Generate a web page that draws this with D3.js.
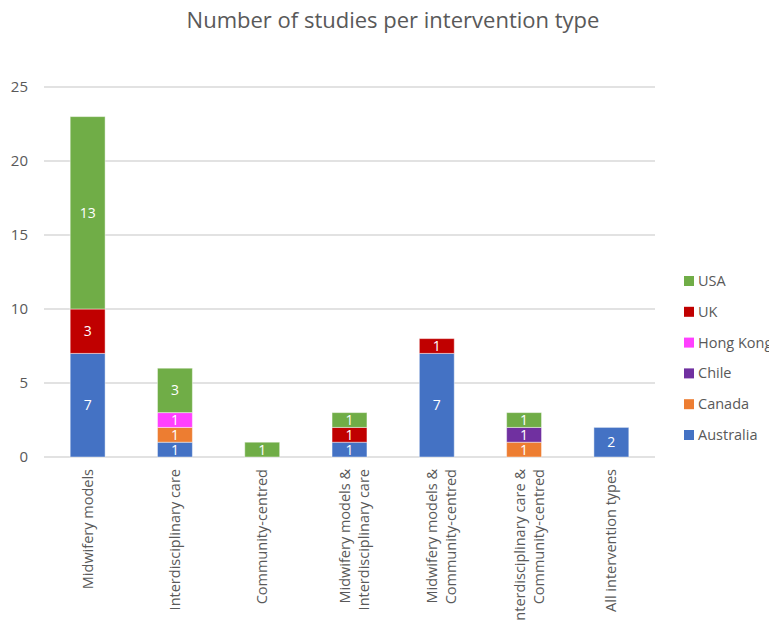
<!DOCTYPE html>
<html>
<head>
<meta charset="utf-8">
<script src="https://cdn.jsdelivr.net/npm/d3@7"></script>
<style>
  body { margin: 0; background: #fff; }
  svg text { font-family: "Open Sans", "Noto Sans", sans-serif; fill: #595959; }
</style>
</head>
<body>
<script>
// chart data
var categories = [
  ["Midwifery models"],
  ["Interdisciplinary care"],
  ["Community-centred"],
  ["Midwifery models &", "Interdisciplinary care"],
  ["Midwifery models &", "Community-centred"],
  ["Interdisciplinary care &", "Community-centred"],
  ["All intervention types"]
];
var countries = ["Australia", "Canada", "Chile", "Hong Kong", "UK", "USA"];
var australia = [7, 1, 0, 1, 7, 0, 2];
var canada    = [0, 1, 0, 0, 0, 1, 0];
var chile     = [0, 0, 0, 0, 0, 1, 0];
var hongKong  = [0, 1, 0, 0, 0, 0, 0];
var uk        = [3, 0, 0, 1, 1, 0, 0];
var usa       = [13, 3, 1, 1, 0, 1, 0];
var yTicks = [0, 5, 10, 15, 20, 25];
var colors = ["#4472C4", "#ED7D31", "#7030A0", "#FF40FF", "#C00000", "#70AD47"];

var width = 769, height = 620;
var margin = { top: 87, right: 114, bottom: 163, left: 44 };
var innerW = width - margin.left - margin.right;
var innerH = height - margin.top - margin.bottom;

var seriesValues = [australia, canada, chile, hongKong, uk, usa];
var rows = categories.map(function (c, i) {
  var r = { key: i };
  countries.forEach(function (k, j) { r[k] = seriesValues[j][i]; });
  return r;
});

var svg = d3.select('body').append('svg')
  .attr('width', width).attr('height', height);

svg.append('text')
  .attr('x', 393).attr('y', 28)
  .attr('text-anchor', 'middle')
  .style('font-size', '22px')
  .text('Number of studies per intervention type');

var g = svg.append('g').attr('transform', 'translate(' + margin.left + ',' + margin.top + ')');

var x = d3.scaleBand().domain(d3.range(categories.length)).range([0, innerW]).paddingInner(0.6).paddingOuter(0.3);
var y = d3.scaleLinear().domain([0, 25]).range([innerH, 0]);

// gridlines
g.append('g').selectAll('line').data(yTicks).enter().append('line')
  .attr('x1', 0).attr('x2', innerW)
  .attr('y1', function (d) { return y(d); }).attr('y2', function (d) { return y(d); })
  .style('stroke', '#d9d9d9').style('stroke-width', 1.3);

// y axis labels
var yAxis = g.append('g').call(d3.axisLeft(y).tickValues(yTicks).tickSize(0).tickPadding(16));
yAxis.select('.domain').remove();
yAxis.selectAll('text').style('font-size', '15px').style('fill', '#595959')
  .style('font-family', '"Open Sans", sans-serif');

var stack = d3.stack().keys(countries);
var series = stack(rows);

var layer = g.selectAll('.layer').data(series).enter().append('g')
  .attr('fill', function (d, i) { return colors[i]; });

layer.selectAll('rect').data(function (d) { return d.filter(function (p) { return p[1] - p[0] > 0; }); })
  .enter().append('rect')
  .attr('x', function (d) { return x(d.data.key); })
  .attr('width', x.bandwidth())
  .attr('y', function (d) { return y(d[1]); })
  .attr('height', function (d) { return y(d[0]) - y(d[1]); })
  .style('stroke', 'rgba(255,255,255,0.45)').style('stroke-width', 1);

layer.selectAll('text').data(function (d) { return d.filter(function (p) { return p[1] - p[0] > 0; }); })
  .enter().append('text')
  .attr('x', function (d) { return x(d.data.key) + x.bandwidth() / 2; })
  .attr('y', function (d) { return (y(d[0]) + y(d[1])) / 2; })
  .attr('dy', '0.36em')
  .attr('text-anchor', 'middle')
  .style('font-size', '14px').style('fill', '#fff')
  .text(function (d) { return d[1] - d[0]; });

// x labels, rotated
var xl = g.append('g').selectAll('text').data(categories).enter().append('text')
  .attr('text-anchor', 'end')
  .style('font-size', '14.5px')
  .attr('transform', function (d, i) {
    var cx = x(i) + x.bandwidth() / 2 + (d.length - 1) * 5;
    return 'translate(' + cx + ',' + (innerH + 12) + ') rotate(-90)';
  });
xl.each(function (d) {
  var t = d3.select(this);
  d.forEach(function (line, j) {
    t.append('tspan').attr('x', 0).attr('y', (j - (d.length - 1) / 2) * 19).attr('dy', '0.35em').text(line);
  });
});

// legend
var legendOrder = countries.slice().reverse();
var leg = svg.append('g').selectAll('g').data(legendOrder).enter().append('g')
  .attr('transform', function (d, i) { return 'translate(684,' + (281 + i * 30.8) + ')'; });
leg.append('rect').attr('x', 0).attr('y', -5).attr('width', 10).attr('height', 10)
  .attr('fill', function (d) { return colors[countries.indexOf(d)]; });
leg.append('text').attr('x', 14).attr('dy', '0.35em').style('font-size', '14.5px').text(function (d) { return d; });
</script>
</body>
</html>
